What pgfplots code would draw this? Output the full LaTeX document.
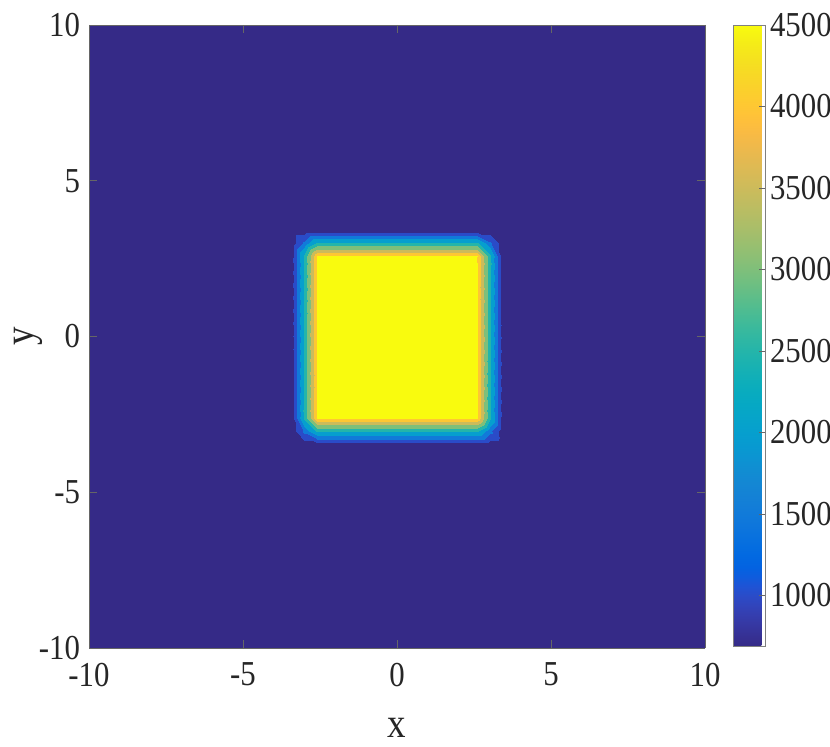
\documentclass[border=0pt]{standalone}
\usepackage{fontspec}
\setmainfont{Liberation Serif}[FakeStretch=0.88]
\usepackage{pgfplots}
\pgfplotsset{compat=1.18}
\pgfplotsset{
 colormap={parulaD}{rgb(690)=(0.2081,0.1663,0.5292) rgb(1000)=(0.165,0.296,0.786) rgb(1500)=(0.066,0.480,0.852) rgb(2000)=(0.025,0.624,0.807) rgb(2500)=(0.143,0.709,0.666) rgb(3000)=(0.496,0.749,0.480) rgb(3500)=(0.801,0.734,0.357) rgb(4000)=(0.996,0.781,0.201) rgb(4499)=(0.9763,0.9831,0.0538) rgb(4500)=(0.9763,0.9831,0.0538)},
 colormap={parula}{
 rgb=(0.2081,0.1663,0.5292) rgb=(0.2116,0.1898,0.5777) rgb=(0.2123,0.2138,0.6270) rgb=(0.2081,0.2386,0.6771)
 rgb=(0.1959,0.2645,0.7279) rgb=(0.1707,0.2919,0.7792) rgb=(0.1253,0.3242,0.8303) rgb=(0.0591,0.3598,0.8683)
 rgb=(0.0117,0.3875,0.8820) rgb=(0.0060,0.4086,0.8828) rgb=(0.0165,0.4266,0.8786) rgb=(0.0329,0.4430,0.8720)
 rgb=(0.0498,0.4586,0.8641) rgb=(0.0629,0.4737,0.8554) rgb=(0.0723,0.4887,0.8467) rgb=(0.0779,0.5040,0.8384)
 rgb=(0.0793,0.5200,0.8312) rgb=(0.0749,0.5375,0.8263) rgb=(0.0641,0.5570,0.8240) rgb=(0.0488,0.5772,0.8228)
 rgb=(0.0343,0.5966,0.8199) rgb=(0.0265,0.6137,0.8135) rgb=(0.0239,0.6287,0.8038) rgb=(0.0231,0.6418,0.7913)
 rgb=(0.0228,0.6535,0.7768) rgb=(0.0267,0.6642,0.7607) rgb=(0.0384,0.6743,0.7436) rgb=(0.0590,0.6838,0.7254)
 rgb=(0.0843,0.6928,0.7062) rgb=(0.1133,0.7015,0.6859) rgb=(0.1453,0.7098,0.6646) rgb=(0.1801,0.7177,0.6424)
 rgb=(0.2178,0.7250,0.6193) rgb=(0.2586,0.7317,0.5954) rgb=(0.3022,0.7376,0.5712) rgb=(0.3482,0.7424,0.5473)
 rgb=(0.3953,0.7459,0.5244) rgb=(0.4420,0.7481,0.5033) rgb=(0.4871,0.7491,0.4840) rgb=(0.5300,0.7491,0.4661)
 rgb=(0.5709,0.7485,0.4494) rgb=(0.6099,0.7473,0.4337) rgb=(0.6473,0.7456,0.4188) rgb=(0.6834,0.7435,0.4044)
 rgb=(0.7184,0.7411,0.3905) rgb=(0.7525,0.7384,0.3768) rgb=(0.7858,0.7356,0.3633) rgb=(0.8185,0.7327,0.3498)
 rgb=(0.8507,0.7299,0.3360) rgb=(0.8824,0.7274,0.3217) rgb=(0.9139,0.7258,0.3063) rgb=(0.9450,0.7261,0.2886)
 rgb=(0.9739,0.7314,0.2666) rgb=(0.9938,0.7455,0.2403) rgb=(0.9990,0.7653,0.2164) rgb=(0.9955,0.7861,0.1967)
 rgb=(0.9880,0.8066,0.1794) rgb=(0.9789,0.8271,0.1633) rgb=(0.9697,0.8481,0.1475) rgb=(0.9626,0.8705,0.1309)
 rgb=(0.9589,0.8949,0.1132) rgb=(0.9598,0.9218,0.0948) rgb=(0.9661,0.9514,0.0755) rgb=(0.9763,0.9831,0.0538)}
}
\begin{document}
\begin{tikzpicture}
\useasboundingbox (-44.5pt,-49.5pt) rectangle (370.5pt,324pt);
\begin{axis}[at={(0,0)}, anchor=south west, scale only axis,
 width=308pt, height=311.5pt,
 view={0}{90},
 xmin=-10, xmax=10, ymin=-10, ymax=10,
 xtick={-10,-5,0,5,10}, ytick={-10,-5,0,5,10},
 tick align=inside, major tick length=4pt,
 axis line style={black!60}, tick style={black!60, thin},
 ticklabel style={font=\fontsize{17.5}{20}\selectfont, text=black!85},
 xticklabel style={yshift=-4pt},
 yticklabel style={xshift=-1pt},
 /pgf/number format/assume math mode=true,
 xlabel={x}, ylabel={y},
 xlabel style={at={(axis description cs:0.5,-0.129)}, anchor=center},
 ylabel style={at={(axis description cs:-0.098,0.5)}, anchor=center},
 label style={font=\fontsize{21}{24}\selectfont, text=black!85},
 colormap name=parula, point meta min=690, point meta max=4500,
 axis on top,
 colorbar,
 colorbar shift/.style={xshift=14pt},
 colorbar style={scale only axis, width=16pt, height=310.5pt,
   at={(parent axis.north east)}, anchor=north west,
   ytick={1000,1500,2000,2500,3000,3500,4000,4500},
   yticklabel pos=right, ytick pos=right, tick align=inside, major tick length=3pt,
   axis line style={black!50}, tick style={black!60, thin},
   ticklabel style={font=\fontsize{17.5}{20}\selectfont, text=black!85},
   yticklabel style={xshift=-1pt},
   /pgf/number format/1000 sep={}, /pgf/number format/assume math mode=true},
]
\addplot3[surf, shader=interp, colormap name=parulaD, colormap access=piecewise constant] coordinates {
(-10,-10,690) (-3.45,-10,690) (-3.025,-10,690) (-2.6,-10,690) (2.6,-10,690) (3.025,-10,690) (3.45,-10,690) (10,-10,690)

(-10,-3.47,690) (-3.45,-3.47,690) (-3.025,-3.47,690) (-2.6,-3.47,690) (2.6,-3.47,690) (3.025,-3.47,690) (3.45,-3.47,690) (10,-3.47,690)

(-10,-3.045,690) (-3.45,-3.045,690) (-3.025,-3.045,1642.5) (-2.6,-3.045,2595) (2.6,-3.045,2595) (3.025,-3.045,1642.5) (3.45,-3.045,690) (10,-3.045,690)

(-10,-2.62,690) (-3.45,-2.62,690) (-3.025,-2.62,2595) (-2.6,-2.62,4500) (2.6,-2.62,4500) (3.025,-2.62,2595) (3.45,-2.62,690) (10,-2.62,690)

(-10,2.57,690) (-3.45,2.57,690) (-3.025,2.57,2595) (-2.6,2.57,4500) (2.6,2.57,4500) (3.025,2.57,2595) (3.45,2.57,690) (10,2.57,690)

(-10,2.995,690) (-3.45,2.995,690) (-3.025,2.995,1642.5) (-2.6,2.995,2595) (2.6,2.995,2595) (3.025,2.995,1642.5) (3.45,2.995,690) (10,2.995,690)

(-10,3.42,690) (-3.45,3.42,690) (-3.025,3.42,690) (-2.6,3.42,690) (2.6,3.42,690) (3.025,3.42,690) (3.45,3.42,690) (10,3.42,690)

(-10,10,690) (-3.45,10,690) (-3.025,10,690) (-2.6,10,690) (2.6,10,690) (3.025,10,690) (3.45,10,690) (10,10,690)
};
\end{axis}
\end{tikzpicture}
\end{document}
